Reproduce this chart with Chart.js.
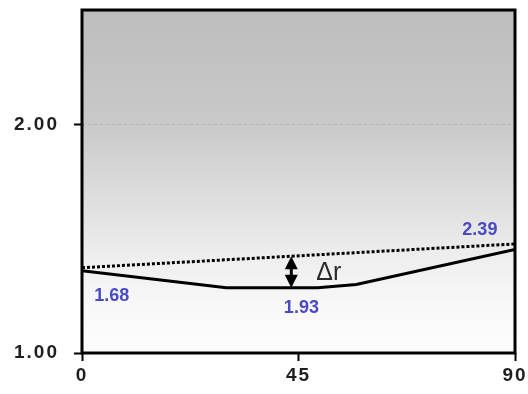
<!DOCTYPE html>
<html>
<head>
<meta charset="utf-8">
<script src="https://cdn.jsdelivr.net/npm/chart.js@4/dist/chart.umd.min.js"></script>
<style>
  html, body { margin: 0; padding: 0; background: #fff; }
  #wrap { width: 528px; height: 394px; position: relative; }
</style>
</head>
<body>
<div id="wrap"><canvas id="chart"></canvas></div>
<script>
// --- Data ---
const xTicks = [0, 45, 90];
const yTicks = [1, 2];

// solid curve
const solidX = [0, 30, 49, 57, 90];
const solidY = [1.36, 1.285, 1.285, 1.300, 1.453];

// dotted reference line
const dottedX = [0, 90];
const dottedY = [1.373, 1.477];

// value labels written on the chart
const noteText = ['1.68', '1.93', '2.39'];
const noteX = [6.2, 45.6, 82.7];
const noteY = [1.251, 1.196, 1.539];

// where the delta-r arrow sits
const arrowX = 43.5;

const tickFont = { family: "'Liberation Sans', Arial, sans-serif", size: 19, weight: 'bold' };

function lerp(xs, ys, v) {
    for (let i = 0; i < xs.length - 1; i++) {
        if (v >= xs[i] && v <= xs[i + 1]) {
            const t = (v - xs[i]) / (xs[i + 1] - xs[i]);
            return ys[i] + t * (ys[i + 1] - ys[i]);
        }
    }
    return ys[ys.length - 1];
}

// no extra room for half-labels, the layout padding decides
function noPad(s) {
    s.paddingLeft = 0;
    s.paddingRight = 0;
    s.paddingTop = 0;
    s.paddingBottom = 0;
}

// --- Plot background, frame and annotations ---
const decorPlugin = {
    id: 'decor',
    beforeDraw(chart) {
        const { ctx, chartArea: a } = chart;
        const g = ctx.createLinearGradient(0, a.top, 0, a.bottom);
        g.addColorStop(0, '#bdbdbd');
        g.addColorStop(0.33, '#c9c9c9');
        g.addColorStop(0.55, '#dedede');
        g.addColorStop(0.72, '#eeeeee');
        g.addColorStop(0.86, '#f8f8f8');
        g.addColorStop(1, '#fdfdfd');
        ctx.save();
        ctx.fillStyle = g;
        ctx.fillRect(a.left, a.top, a.right - a.left, a.bottom - a.top);
        ctx.restore();
        ctx.letterSpacing = '2px'; // spaced tick labels
    },
    beforeDatasetsDraw(chart) {
        chart.ctx.letterSpacing = '0px';
    },
    afterDraw(chart) {
        const { ctx, chartArea: a, scales: { x, y } } = chart;
        ctx.save();
        ctx.letterSpacing = '0px';

        // frame
        ctx.strokeStyle = '#000';
        ctx.lineWidth = 3;
        ctx.strokeRect(a.left, a.top, a.right - a.left, a.bottom - a.top);

        // double arrow between the two lines
        const ax = x.getPixelForValue(arrowX);
        const yTop = y.getPixelForValue(lerp(dottedX, dottedY, arrowX));
        const yBot = y.getPixelForValue(lerp(solidX, solidY, arrowX));
        const head = 13, hw = 6.5;
        ctx.fillStyle = '#000';
        ctx.beginPath();
        ctx.moveTo(ax, yTop);
        ctx.lineTo(ax + hw, yTop + head);
        ctx.lineTo(ax - hw, yTop + head);
        ctx.closePath();
        ctx.fill();
        ctx.beginPath();
        ctx.moveTo(ax, yBot);
        ctx.lineTo(ax + hw, yBot - head);
        ctx.lineTo(ax - hw, yBot - head);
        ctx.closePath();
        ctx.fill();
        ctx.lineWidth = 3;
        ctx.beginPath();
        ctx.moveTo(ax, yTop + head - 1);
        ctx.lineTo(ax, yBot - head + 1);
        ctx.stroke();

        // delta r
        ctx.font = "25px 'Liberation Sans', Arial, sans-serif";
        ctx.fillStyle = '#2a2a2a';
        ctx.textAlign = 'left';
        ctx.textBaseline = 'middle';
        ctx.fillText('\u0394r', ax + 25, (yTop + yBot) / 2 + 1);

        // value notes
        ctx.font = "bold 18px 'Liberation Sans', Arial, sans-serif";
        ctx.fillStyle = '#4a4ac4';
        ctx.textAlign = 'center';
        noteText.forEach((t, i) => {
            ctx.fillText(t, x.getPixelForValue(noteX[i]), y.getPixelForValue(noteY[i]));
        });
        ctx.restore();
    }
};

new Chart(document.getElementById('chart'), {
    type: 'line',
    data: {
        datasets: [
            {
                data: solidX.map((v, i) => ({ x: v, y: solidY[i] })),
                borderColor: '#000',
                borderWidth: 3,
                pointRadius: 0,
                tension: 0
            },
            {
                data: dottedX.map((v, i) => ({ x: v, y: dottedY[i] })),
                borderColor: '#000',
                borderWidth: 3,
                borderDash: [3, 2],
                pointRadius: 0,
                tension: 0
            }
        ]
    },
    options: {
        responsive: true,
        maintainAspectRatio: false,
        animation: false,
        layout: { padding: { top: 10, right: 13, left: 0, bottom: 0 } },
        plugins: { legend: { display: false }, tooltip: { enabled: false } },
        scales: {
            x: {
                type: 'linear',
                min: 0,
                max: 90,
                afterBuildTicks: s => { s.ticks = xTicks.map(v => ({ value: v })); },
                afterFit: s => { s.height = 41; noPad(s); },
                grid: { drawOnChartArea: false, tickLength: 8, tickColor: '#000', tickWidth: 2 },
                border: { display: false },
                ticks: { font: tickFont, color: '#1e1e1e', padding: 3, maxRotation: 0, autoSkip: false }
            },
            y: {
                min: 1,
                max: 2.5,
                afterBuildTicks: s => { s.ticks = yTicks.map(v => ({ value: v })); },
                afterFit: s => { s.width = 82; noPad(s); },
                grid: { color: '#b4b4b4', lineWidth: 1, tickLength: 8, tickColor: '#000', tickWidth: 2 },
                border: { display: false, dash: [3, 3] },
                ticks: { font: tickFont, color: '#1e1e1e', padding: 15, callback: v => Number(v).toFixed(2) }
            }
        }
    },
    plugins: [decorPlugin]
});
</script>
</body>
</html>
